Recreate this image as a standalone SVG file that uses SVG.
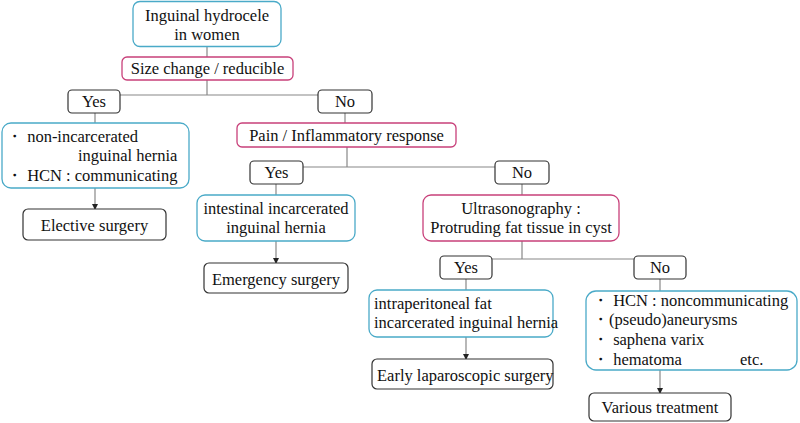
<svg xmlns="http://www.w3.org/2000/svg" width="800" height="423" viewBox="0 0 800 423">
<defs>
<marker id="arr" markerWidth="6" markerHeight="6" refX="5" refY="3" orient="auto" markerUnits="userSpaceOnUse">
<path d="M0,0 L6,3 L0,6 Z" fill="#222"/>
</marker>
<style>
.blue{fill:#fff;stroke:#4aaac8;stroke-width:1.3}
.pink{fill:#fff;stroke:#c8407a;stroke-width:1.3}
.dark{fill:#fff;stroke:#333;stroke-width:1.2}
.ln{fill:none;stroke:#888;stroke-width:1.2}
</style>
</defs>
<rect width="800" height="423" fill="#fff"/>
<g id="connectors">
<path class="ln" d="M207,47 V57"/>
<path class="ln" d="M207,80 V95 M120,95 H318"/>
<path class="ln" d="M95,113 V123"/>
<path class="ln" d="M345,113 V123"/>
<path class="ln" d="M95,188 V209" marker-end="url(#arr)"/>
<path class="ln" d="M347,147 V167 M303,167 H495"/>
<path class="ln" d="M276,184 V195"/>
<path class="ln" d="M522,184 V195"/>
<path class="ln" d="M276,241 V263" marker-end="url(#arr)"/>
<path class="ln" d="M522,241 V259 M492,259 H634"/>
<path class="ln" d="M466,279 V290"/>
<path class="ln" d="M660,279 V291"/>
<path class="ln" d="M466,337 V359" marker-end="url(#arr)"/>
<path class="ln" d="M660,370 V393" marker-end="url(#arr)"/>
</g>
<g id="n-hydrocele">
<rect class="blue" x="133" y="1.5" width="148" height="45" rx="7"/>
<text style="font-family:'Liberation Serif','Times New Roman',serif !important;font-size:16.5px;fill:#111" text-anchor="middle" x="207" y="21">Inguinal  hydrocele</text>
<text style="font-family:'Liberation Serif','Times New Roman',serif !important;font-size:16.5px;fill:#111" text-anchor="middle" x="207" y="40">in women</text>
</g>
<g id="n-size">
<rect class="pink" x="122" y="57" width="171" height="23" rx="5"/>
<text style="font-family:'Liberation Serif','Times New Roman',serif !important;font-size:16.5px;fill:#111" text-anchor="middle" x="207.5" y="74">Size change / reducible</text>
</g>
<g id="n-yes1">
<rect class="dark" x="68" y="90" width="52" height="23" rx="4"/>
<text style="font-family:'Liberation Serif','Times New Roman',serif !important;font-size:16.5px;fill:#111" text-anchor="middle" x="94" y="107">Yes</text>
</g>
<g id="n-no1">
<rect class="dark" x="318" y="90" width="54" height="23" rx="4"/>
<text style="font-family:'Liberation Serif','Times New Roman',serif !important;font-size:16.5px;fill:#111" text-anchor="middle" x="345" y="107">No</text>
</g>
<g id="n-nonincarc">
<rect class="blue" x="2" y="123" width="187" height="65" rx="9"/>
<text style="font-family:'Liberation Serif','Times New Roman',serif !important;font-size:16.5px;fill:#111" x="6" y="142">・ non-incarcerated</text>
<text style="font-family:'Liberation Serif','Times New Roman',serif !important;font-size:16.5px;fill:#111" x="78" y="161">inguinal hernia</text>
<text style="font-family:'Liberation Serif','Times New Roman',serif !important;font-size:16.5px;fill:#111" x="6" y="181">・ HCN : communicating</text>
</g>
<g id="n-elective">
<rect class="dark" x="23" y="209" width="143" height="31" rx="5"/>
<text style="font-family:'Liberation Serif','Times New Roman',serif !important;font-size:16.5px;fill:#111" text-anchor="middle" x="94.5" y="231">Elective surgery</text>
</g>
<g id="n-pain">
<rect class="pink" x="237" y="123" width="219" height="24" rx="5"/>
<text style="font-family:'Liberation Serif','Times New Roman',serif !important;font-size:16.5px;fill:#111" text-anchor="middle" x="346.5" y="141">Pain / Inflammatory response</text>
</g>
<g id="n-yes2">
<rect class="dark" x="250" y="161" width="53" height="23" rx="4"/>
<text style="font-family:'Liberation Serif','Times New Roman',serif !important;font-size:16.5px;fill:#111" text-anchor="middle" x="276.5" y="178">Yes</text>
</g>
<g id="n-no2">
<rect class="dark" x="495" y="161" width="54" height="23" rx="4"/>
<text style="font-family:'Liberation Serif','Times New Roman',serif !important;font-size:16.5px;fill:#111" text-anchor="middle" x="522" y="178">No</text>
</g>
<g id="n-intestinal">
<rect class="blue" x="197" y="195" width="158" height="46" rx="8"/>
<text style="font-family:'Liberation Serif','Times New Roman',serif !important;font-size:16.5px;fill:#111" text-anchor="middle" x="276" y="214">intestinal incarcerated</text>
<text style="font-family:'Liberation Serif','Times New Roman',serif !important;font-size:16.5px;fill:#111" text-anchor="middle" x="276" y="233">inguinal hernia</text>
</g>
<g id="n-emergency">
<rect class="dark" x="204" y="263" width="144" height="30" rx="5"/>
<text style="font-family:'Liberation Serif','Times New Roman',serif !important;font-size:16.5px;fill:#111" text-anchor="middle" x="276" y="285">Emergency surgery</text>
</g>
<g id="n-us">
<rect class="pink" x="423" y="195" width="196" height="46" rx="8"/>
<text style="font-family:'Liberation Serif','Times New Roman',serif !important;font-size:16.5px;fill:#111" text-anchor="middle" x="521" y="214">Ultrasonography :</text>
<text style="font-family:'Liberation Serif','Times New Roman',serif !important;font-size:16.5px;fill:#111" text-anchor="middle" x="521" y="233">Protruding fat tissue in cyst</text>
</g>
<g id="n-yes3">
<rect class="dark" x="440" y="256" width="52" height="23" rx="4"/>
<text style="font-family:'Liberation Serif','Times New Roman',serif !important;font-size:16.5px;fill:#111" text-anchor="middle" x="466" y="273">Yes</text>
</g>
<g id="n-no3">
<rect class="dark" x="634" y="256" width="52" height="23" rx="4"/>
<text style="font-family:'Liberation Serif','Times New Roman',serif !important;font-size:16.5px;fill:#111" text-anchor="middle" x="660" y="273">No</text>
</g>
<g id="n-intraperitoneal">
<rect class="blue" x="369" y="290" width="184" height="47" rx="8"/>
<text style="font-family:'Liberation Serif','Times New Roman',serif !important;font-size:16.5px;fill:#111" x="374" y="309">intraperitoneal fat</text>
<text style="font-family:'Liberation Serif','Times New Roman',serif !important;font-size:16.5px;fill:#111" x="374" y="328">incarcerated inguinal hernia</text>
</g>
<g id="n-early">
<rect class="dark" x="372" y="359" width="181" height="30" rx="5"/>
<text style="font-family:'Liberation Serif','Times New Roman',serif !important;font-size:16.5px;fill:#111" x="377" y="381">Early laparoscopic surgery</text>
</g>
<g id="n-other">
<rect class="blue" x="586" y="291" width="211" height="79" rx="10"/>
<text style="font-family:'Liberation Serif','Times New Roman',serif !important;font-size:16.5px;fill:#111" x="592" y="306">・ HCN : noncommunicating</text>
<text style="font-family:'Liberation Serif','Times New Roman',serif !important;font-size:16.5px;fill:#111" x="592" y="325">・(pseudo)aneurysms</text>
<text style="font-family:'Liberation Serif','Times New Roman',serif !important;font-size:16.5px;fill:#111" x="592" y="345">・ saphena varix</text>
<text style="font-family:'Liberation Serif','Times New Roman',serif !important;font-size:16.5px;fill:#111" x="592" y="365">・ hematoma</text>
<text style="font-family:'Liberation Serif','Times New Roman',serif !important;font-size:16.5px;fill:#111" x="740" y="365">etc.</text>
</g>
<g id="n-various">
<rect class="dark" x="589" y="393" width="142" height="28" rx="5"/>
<text style="font-family:'Liberation Serif','Times New Roman',serif !important;font-size:16.5px;fill:#111" text-anchor="middle" x="660" y="413">Various treatment</text>
</g>
</svg>
